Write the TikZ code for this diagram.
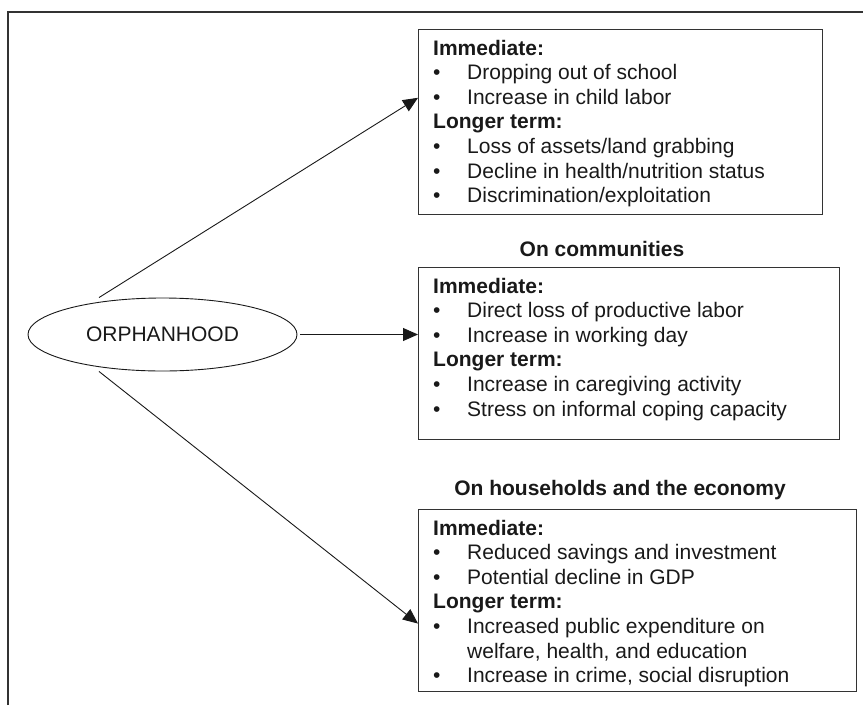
\documentclass[tikz,border=0pt]{standalone}
\usepackage{fontspec}
\setmainfont{Liberation Sans}
\usetikzlibrary{shapes.geometric,arrows.meta}
\newcommand\itm[1]{\makebox[34pt][l]{\textbullet}#1}
\newcommand\hd[1]{\textbf{#1}}
\begin{document}
\begin{tikzpicture}[x=1pt,y=-1pt,
  frame/.style={draw=black!80, line width=1.1pt},
  box/.style={draw=black!80, line width=1.1pt, rectangle, anchor=north west, inner sep=0pt},
  txt/.style={anchor=base west, inner sep=0pt, text=black!90, font=\fontsize{21}{24.6}\selectfont},
  ttl/.style={anchor=base, inner sep=0pt, text=black!90, font=\fontsize{21}{24.6}\selectfont\bfseries},
  oval/.style={ellipse, draw=black!90, line width=0.9pt, inner sep=0pt, minimum width=269pt, minimum height=73pt, text=black!90, font=\fontsize{21}{24.6}\selectfont},
  arr/.style={draw=black!90, line width=0.9pt, -{Triangle[length=15pt,width=13pt]}},
]
\useasboundingbox (0,0) rectangle (863,705);
% figure frame (top and left)
\coordinate (fb) at (8,705);
\coordinate (fc) at (8,12);
\coordinate (fr) at (863,12);
\draw[frame] (fb) -- (fc) -- (fr);

% central node
\node[oval] (orph) at (162.5,334.5) {ORPHANHOOD};

% boxes
\node[box, minimum width=404pt, minimum height=185.5pt] (b1) at (418,28.5) {};
\node[box, minimum width=421pt, minimum height=172pt] (b2) at (418,267) {};
\node[box, minimum width=438pt, minimum height=182pt] (b3) at (418,509) {};

% titles
\node[ttl] (t2) at (602,256) {On communities};
\node[ttl] (t3) at (620,495) {On households and the economy};

% box texts
\node[txt] (x1) at ([xshift=15pt,yshift=-26.5pt]b1.north west) {\begin{tabular}[t]{@{}l@{}}
\hd{Immediate:}\\
\itm{Dropping out of school}\\
\itm{Increase in child labor}\\
\hd{Longer term:}\\
\itm{Loss of assets/land grabbing}\\
\itm{Decline in health/nutrition status}\\
\itm{Discrimination/exploitation}
\end{tabular}};

\node[txt] (x2) at ([xshift=15pt,yshift=-26pt]b2.north west) {\begin{tabular}[t]{@{}l@{}}
\hd{Immediate:}\\
\itm{Direct loss of productive labor}\\
\itm{Increase in working day}\\
\hd{Longer term:}\\
\itm{Increase in caregiving activity}\\
\itm{Stress on informal coping capacity}
\end{tabular}};

\node[txt] (x3) at ([xshift=15pt,yshift=-26pt]b3.north west) {\begin{tabular}[t]{@{}l@{}}
\hd{Immediate:}\\
\itm{Reduced savings and investment}\\
\itm{Potential decline in GDP}\\
\hd{Longer term:}\\
\itm{Increased public expenditure on}\\
\hspace*{34pt}welfare, health, and education\\
\itm{Increase in crime, social disruption}
\end{tabular}};

% connectors
\draw[arr] ([xshift=-63.5pt]orph.north) -- ([yshift=24pt]b1.west);
\draw[arr] ([xshift=3pt]orph.east) -- (orph.east -| b2.west);
\draw[arr] ([xshift=-63.5pt]orph.south) -- ([yshift=-23pt]b3.west);
\end{tikzpicture}
\end{document}
